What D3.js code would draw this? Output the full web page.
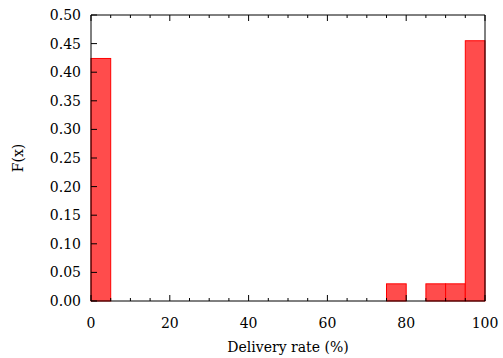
<!DOCTYPE html>
<html>
<head>
<meta charset="utf-8">
<script src="https://cdn.jsdelivr.net/npm/d3@7"></script>
<style>
  body { margin: 0; background: #fff; }
  svg { display: block; }
</style>
</head>
<body>
<svg width="503" height="358"></svg>
<script>
// Histogram bins (lower edge, %) and fraction per bin
const binStarts = [0, 5, 10, 15, 20, 25, 30, 35, 40, 45, 50, 55, 60, 65, 70, 75, 80, 85, 90, 95];
const binValues = [0.424, 0, 0, 0, 0, 0, 0, 0, 0, 0, 0, 0, 0, 0, 0, 0.030, 0, 0.030, 0.030, 0.455];
const binWidth = 5;
const xTicks = [0, 20, 40, 60, 80, 100];
const yTicks = [0, 0.05, 0.10, 0.15, 0.20, 0.25, 0.30, 0.35, 0.40, 0.45, 0.50];

const margin = { top: 15, right: 18, bottom: 57, left: 91 };
const width = 503, height = 358;

const svg = d3.select("svg");

const x = d3.scaleLinear().domain([0, 100]).range([margin.left, width - margin.right]);
const y = d3.scaleLinear().domain([0, 0.5]).range([height - margin.bottom, margin.top]);

// Bars
svg.append("g")
    .selectAll("rect")
    .data(binStarts.map((s, i) => ({ x0: s, v: binValues[i] })))
    .join("rect")
    .attr("x", d => x(d.x0))
    .attr("y", d => y(d.v))
    .attr("width", d => x(d.x0 + binWidth) - x(d.x0))
    .attr("height", d => y(0) - y(d.v))
    .attr("fill", "#ff4c4c")
    .attr("stroke", "#ff0000")
    .attr("stroke-width", 1);

// Frame: left, bottom, top, right
svg.append("path")
    .attr("d", `M${x(0)},${y(0.5)}V${y(0)}H${x(100)}V${y(0.5)}H${x(0)}`)
    .attr("stroke", "#000").attr("stroke-width", 1).attr("fill", "none");

// Ticks (inward, mirrored on top for x)
const minorX = d3.range(0, 101, 5);
const tickG = svg.append("g").attr("stroke", "#000").attr("stroke-width", 1);
minorX.forEach(v => {
  const len = v % 20 === 0 ? 6 : 3;
  tickG.append("line").attr("x1", x(v)).attr("x2", x(v)).attr("y1", y(0)).attr("y2", y(0) - len);
  tickG.append("line").attr("x1", x(v)).attr("x2", x(v)).attr("y1", y(0.5)).attr("y2", y(0.5) + len);
});
yTicks.forEach(v => {
  tickG.append("line").attr("x1", x(0)).attr("x2", x(0) + 6).attr("y1", y(v)).attr("y2", y(v));
});

const font = "DejaVu Serif";
const fontSize = "14px";

// Tick labels
svg.append("g")
    .selectAll("text")
    .data(xTicks)
    .join("text")
    .attr("x", d => x(d))
    .attr("y", y(0) + 27)
    .attr("text-anchor", "middle")
    .style("font-family", font)
    .style("font-size", fontSize)
    .text(d => d);

svg.append("g")
    .selectAll("text")
    .data(yTicks)
    .join("text")
    .attr("x", x(0) - 10)
    .attr("y", d => y(d) + 5)
    .attr("text-anchor", "end")
    .style("font-family", font)
    .style("font-size", fontSize)
    .text(d => d3.format(".2f")(d));

// Axis titles
svg.append("text")
    .attr("x", (x(0) + x(100)) / 2)
    .attr("y", height - 6)
    .attr("text-anchor", "middle")
    .style("font-family", font)
    .style("font-size", fontSize)
    .text("Delivery rate (%)");

svg.append("text")
    .attr("transform", `translate(23,${(y(0) + y(0.5)) / 2}) rotate(-90)`)
    .attr("text-anchor", "middle")
    .style("font-family", font)
    .style("font-size", fontSize)
    .text("F(x)");
</script>
</body>
</html>
